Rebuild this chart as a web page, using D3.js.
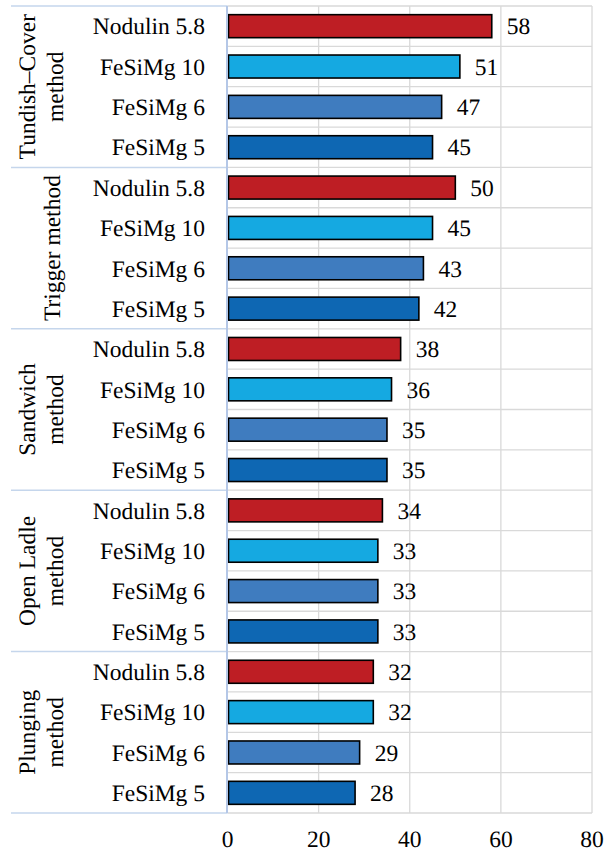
<!DOCTYPE html>
<html><head><meta charset="utf-8">
<script src="https://cdn.jsdelivr.net/npm/d3@7"></script>
<style>html,body{margin:0;padding:0;background:#fff;}svg{display:block;}
svg text{font-family:"Liberation Serif","DejaVu Serif",serif;text-rendering:geometricPrecision;}</style>
</head><body>
<script>
const groups = ["Tundish\u2013Cover method", "Trigger method", "Sandwich method", "Open Ladle method", "Plunging method"];
const groupLines = [["Tundish\u2013Cover", "method"], ["Trigger method"], ["Sandwich", "method"], ["Open Ladle", "method"], ["Plunging", "method"]];
const alloys = ["Nodulin 5.8", "FeSiMg 10", "FeSiMg 6", "FeSiMg 5"];
const alloyColors = ["#BE1E24", "#15A9E1", "#3F7CBF", "#0E67B3"];
const tundishValues = [58, 51, 47, 45];
const triggerValues = [50, 45, 43, 42];
const sandwichValues = [38, 36, 35, 35];
const openLadleValues = [34, 33, 33, 33];
const plungingValues = [32, 32, 29, 28];
const groupValues = [tundishValues, triggerValues, sandwichValues, openLadleValues, plungingValues];
const xTicks = [0, 20, 40, 60, 80];

const W = 613, H = 854;
const fs = 23.5;
const plotLeft = 227.5, plotRight = 592, plotTop = 6, plotBottom = 813;

const rows = [];
groups.forEach((g, gi) => alloys.forEach((a, ai) => rows.push({key: gi + "|" + ai, group: g, gi, alloy: a, ai, value: groupValues[gi][ai]})));

const svg = d3.select("body").append("svg").attr("width", W).attr("height", H);
const x = d3.scaleLinear().domain([0, 80]).range([plotLeft, plotRight]);
const y = d3.scaleBand().domain(rows.map(r => r.key)).range([plotTop, plotBottom]).paddingInner(0.43).paddingOuter(0.215);
const yb = d3.scaleBand().domain(rows.map(r => r.key)).range([plotTop, plotBottom]);
const yg = d3.scaleBand().domain(groups).range([plotTop, plotBottom]);

// horizontal gridlines at category boundaries
svg.append("g").selectAll("line").data(rows).join("line")
  .attr("x1", plotLeft).attr("x2", plotRight)
  .attr("y1", d => yb(d.key)).attr("y2", d => yb(d.key))
  .attr("stroke", "#d9d9d9").attr("stroke-width", 1.3);
svg.append("line").attr("x1", plotLeft).attr("x2", plotRight).attr("y1", plotBottom).attr("y2", plotBottom)
  .attr("stroke", "#d9d9d9").attr("stroke-width", 1.3);
// vertical gridlines
svg.append("g").selectAll("line").data(xTicks.slice(1)).join("line")
  .attr("x1", d => x(d)).attr("x2", d => x(d)).attr("y1", plotTop).attr("y2", plotBottom)
  .attr("stroke", "#d9d9d9").attr("stroke-width", 1.3);

// group separators on the left
const seps = groups.map(g => yg(g)).concat([plotBottom]);
svg.append("g").selectAll("line").data(seps).join("line")
  .attr("x1", 11).attr("x2", plotLeft).attr("y1", d => d).attr("y2", d => d)
  .attr("stroke", "#C5D6EC").attr("stroke-width", 1.5);

// bars
svg.append("g").selectAll("rect").data(rows).join("rect")
  .attr("x", x(0) + 1).attr("y", d => y(d.key))
  .attr("width", d => x(d.value) - x(0) - 1).attr("height", y.bandwidth())
  .attr("fill", d => alloyColors[d.ai]).attr("stroke", "#000").attr("stroke-width", 1.6);

// vertical axis line
svg.append("line").attr("x1", plotLeft - 0.5).attr("x2", plotLeft - 0.5).attr("y1", plotTop).attr("y2", plotBottom)
  .attr("stroke", "#B4C7E7").attr("stroke-width", 2);

// value labels
svg.append("g").selectAll("text").data(rows).join("text")
  .attr("x", d => x(d.value) + 15).attr("y", d => y(d.key) + y.bandwidth() / 2)
  .attr("dy", "0.35em").attr("font-size", fs).attr("fill", "#000")
  .text(d => d.value);

// category labels
svg.append("g").selectAll("text").data(rows).join("text")
  .attr("x", 205).attr("y", d => yb(d.key) + yb.bandwidth() / 2)
  .attr("dy", "0.35em").attr("text-anchor", "end")
  .attr("font-size", fs).attr("fill", "#000")
  .text(d => d.alloy);

// group labels (rotated)
groups.forEach((g, gi) => {
  const cy = yg(g) + yg.bandwidth() / 2;
  const lines = groupLines[gi];
  const baselines = lines.length === 2 ? [35, 63] : [60];
  lines.forEach((ln, li) => {
    svg.append("text")
      .attr("transform", `translate(${baselines[li]},${cy}) rotate(-90)`)
      .attr("text-anchor", "middle")
      .attr("font-size", fs).attr("fill", "#000")
      .text(ln);
  });
});

// x axis tick labels
svg.append("g").selectAll("text").data(xTicks).join("text")
  .attr("x", d => x(d)).attr("y", 847).attr("text-anchor", "middle")
  .attr("font-size", fs).attr("fill", "#000")
  .text(d => d);
</script>
</body></html>
